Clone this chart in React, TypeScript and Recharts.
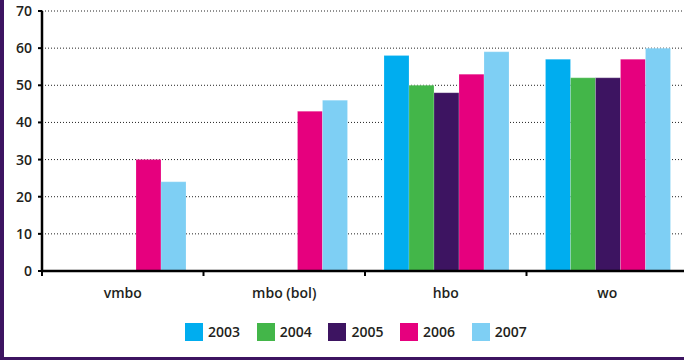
import { BarChart, Bar, XAxis, YAxis, CartesianGrid, Legend } from 'recharts';

const categories = ['vmbo', 'mbo (bol)', 'hbo', 'wo'];
const years = ['2003', '2004', '2005', '2006', '2007'];
const COLORS = ['#00adef', '#43b649', '#3d1461', '#e6007e', '#7ecff4'];

const v2003 = [null, null, 58, 57];
const v2004 = [null, null, 50, 52];
const v2005 = [null, null, 48, 52];
const v2006 = [30, 43, 53, 57];
const v2007 = [24, 46, 59, 60];

const yTicks = [0, 10, 20, 30, 40, 50, 60, 70];

const series = [v2003, v2004, v2005, v2006, v2007];

const data = categories.map((name, i) => {
    const row: Record<string, string | number | null> = { name };
    years.forEach((y, s) => {
        row[y] = series[s][i];
    });
    return row;
});

const FONT = '"Open Sans", sans-serif';
const TEXT = '#231f20';

const CategoryTick = (props: any) => {
    const { x, y, payload } = props;
    const left = x - (payload.offset || 0);
    const axisY = y - 2;
    return (
        <g>
            <line x1={left} y1={axisY} x2={left} y2={axisY + 5} stroke="#000" strokeWidth={2} />
            <text x={x} y={axisY + 27} textAnchor="middle" fontFamily={FONT} fontWeight={600} fontSize={14} fill={TEXT}>
                {payload.value}
            </text>
        </g>
    );
};

const YearLegend = () => (
    <div style={{ display: 'flex', paddingLeft: 185, paddingTop: 22, fontFamily: FONT }}>
        {years.map((y, i) => (
            <div key={y} style={{ display: 'flex', alignItems: 'center', width: 71.7 }}>
                <span style={{ width: 18, height: 18, background: COLORS[i], display: 'inline-block' }} />
                <span style={{ marginLeft: 5, fontSize: 14, fontWeight: 600, color: TEXT, lineHeight: '18px' }}>{y}</span>
            </div>
        ))}
    </div>
);

const App = () => {
    return (
        <div style={{ position: 'absolute', left: 0, top: 0, width: 684, height: 360, overflow: 'hidden', background: '#fff' }}>
            <BarChart
                width={688}
                height={360}
                data={data}
                margin={{ top: 11, right: 0, bottom: 19, left: 0 }}
                barCategoryGap={19}
                barGap={0}
            >
                <CartesianGrid vertical={false} stroke="#222" strokeDasharray="1 2" />
                <XAxis
                    dataKey="name"
                    height={30}
                    tick={<CategoryTick />}
                    tickLine={false}
                    tickSize={0}
                    tickMargin={2}
                    axisLine={{ stroke: '#000', strokeWidth: 2.5 }}
                    interval={0}
                />
                <YAxis
                    width={42}
                    domain={[0, 70]}
                    ticks={yTicks}
                    interval={0}
                    tickSize={4}
                    tickMargin={6}
                    tickLine={{ stroke: '#000', strokeWidth: 2 }}
                    axisLine={{ stroke: '#000', strokeWidth: 2.5 }}
                    tick={{ fontFamily: FONT, fontWeight: 600, fontSize: 14, fill: TEXT }}
                />
                <Legend verticalAlign="bottom" align="left" height={40} content={<YearLegend />} />
                {years.map((y, i) => (
                    <Bar
                        key={y}
                        dataKey={y}
                        fill={COLORS[i]}
                        stroke="#ffffff"
                        strokeOpacity={0.3}
                        strokeWidth={0.6}
                        isAnimationActive={false}
                    />
                ))}
            </BarChart>
            <div style={{ position: 'absolute', left: 0, top: 0, width: 4, height: 360, background: '#3d1461' }} />
            <div style={{ position: 'absolute', left: 0, bottom: 0, width: 684, height: 3, background: '#3d1461' }} />
        </div>
    );
};

export default App;
